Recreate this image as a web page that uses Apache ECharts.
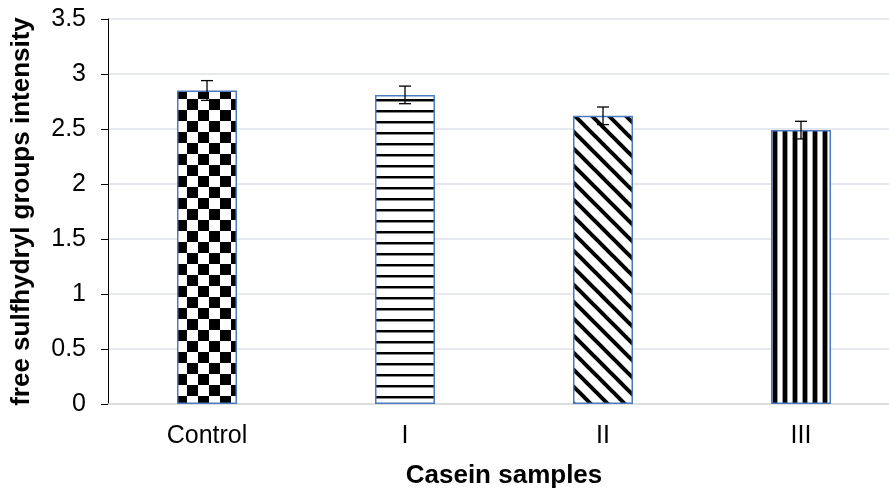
<!DOCTYPE html>
<html lang="en">
<head>
    <meta charset="UTF-8">
    <title>Casein samples</title>
    <script src="https://cdn.jsdelivr.net/npm/echarts@6/dist/echarts.min.js"></script>
    <style>
        html, body {margin: 0; padding: 0; background: #fff;}
        #main {width: 889px; height: 492px;}
    </style>
</head>
<body>
    <div id="main"></div>
    <script>
        var categories = ['Control', 'I', 'II', 'III'];
        var values = [2.85, 2.81, 2.62, 2.49];
        var errors = [0.09, 0.08, 0.08, 0.08];
        var yTicks = [0, 0.5, 1, 1.5, 2, 2.5, 3, 3.5];

        // fill patterns for the bars
        function makePattern(kind) {
            var c = document.createElement('canvas');
            var ctx;
            if (kind == 'checker') {
                c.width = 22; c.height = 22;
                ctx = c.getContext('2d');
                ctx.fillStyle = '#fff'; ctx.fillRect(0, 0, 22, 22);
                ctx.fillStyle = '#000';
                ctx.fillRect(0, 0, 11, 11);
                ctx.fillRect(11, 11, 11, 11);
            } else if (kind == 'horiz') {
                c.width = 10; c.height = 11;
                ctx = c.getContext('2d');
                ctx.fillStyle = '#fff'; ctx.fillRect(0, 0, 10, 11);
                ctx.fillStyle = '#000'; ctx.fillRect(0, 0, 10, 2);
                ctx.fillStyle = '#888'; ctx.fillRect(0, 2, 10, 1);
            } else if (kind == 'diag') {
                c.width = 17; c.height = 17;
                ctx = c.getContext('2d');
                ctx.fillStyle = '#fff'; ctx.fillRect(0, 0, 17, 17);
                ctx.strokeStyle = '#000'; ctx.lineWidth = 4;
                for (var k = -1; k <= 1; k++) {
                    ctx.beginPath();
                    ctx.moveTo(-5, -5 + k * 17);
                    ctx.lineTo(22, 22 + k * 17);
                    ctx.stroke();
                }
            } else {
                c.width = 10; c.height = 10;
                ctx = c.getContext('2d');
                ctx.fillStyle = '#fff'; ctx.fillRect(0, 0, 10, 10);
                ctx.fillStyle = '#000'; ctx.fillRect(3, 0, 4, 10);
                ctx.fillStyle = '#999'; ctx.fillRect(2, 0, 1, 10); ctx.fillRect(7, 0, 1, 10);
            }
            return {image: c, repeat: 'repeat'};
        }
        var patterns = [makePattern('checker'), makePattern('horiz'), makePattern('diag'), makePattern('vert')];

        var barData = [];
        var errData = [];
        for (var i = 0; i < categories.length; i++) {
            barData.push({value: values[i], itemStyle: {color: patterns[i]}});
            errData.push([i, values[i] - errors[i], values[i] + errors[i]]);
        }

        var myChart = echarts.init(document.getElementById('main'));
        var option = {
            animation: false,
            textStyle: {fontFamily: 'Liberation Sans, Arial, sans-serif'},
            grid: {left: 108, top: 19, right: -11, height: 385, outerBoundsMode: 'none'},
            xAxis: {
                type: 'category',
                data: categories,
                name: 'Casein samples',
                nameLocation: 'middle',
                nameGap: 59,
                nameTextStyle: {fontSize: 26, fontWeight: 'bold', color: '#000'},
                axisLine: {lineStyle: {color: '#d9d9d9', width: 1.5}},
                axisTick: {length: 6, lineStyle: {color: '#d9d9d9', width: 1.5}},
                axisLabel: {fontSize: 25, color: '#000', margin: 20}
            },
            yAxis: {
                type: 'value',
                min: yTicks[0],
                max: yTicks[yTicks.length - 1],
                interval: 0.5,
                name: 'free sulfhydryl groups intensity',
                nameLocation: 'middle',
                nameGap: 73,
                nameTextStyle: {fontSize: 26, fontWeight: 'bold', color: '#000'},
                axisLine: {show: true, lineStyle: {color: '#000', width: 1}},
                axisTick: {show: true, length: 7, lineStyle: {color: '#000'}},
                axisLabel: {fontSize: 25, color: '#000', margin: 22},
                splitLine: {lineStyle: {color: '#dde2ea', width: 1.5}}
            },
            series: [{
                name: 'intensity',
                type: 'bar',
                barWidth: 60,
                data: barData,
                itemStyle: {borderColor: '#4a7bc0', borderWidth: 1.5}
            }, {
                name: 'error',
                type: 'custom',
                data: errData,
                z: 10,
                renderItem: function (params, api) {
                    var lo = api.coord([api.value(0), api.value(1)]);
                    var hi = api.coord([api.value(0), api.value(2)]);
                    var w = 6;
                    var st = {stroke: '#000', lineWidth: 1.3};
                    return {
                        type: 'group',
                        children: [
                            {type: 'line', shape: {x1: hi[0], y1: hi[1], x2: lo[0], y2: lo[1]}, style: st},
                            {type: 'line', shape: {x1: hi[0] - w, y1: hi[1], x2: hi[0] + w, y2: hi[1]}, style: st},
                            {type: 'line', shape: {x1: lo[0] - w, y1: lo[1], x2: lo[0] + w, y2: lo[1]}, style: st}
                        ]
                    };
                }
            }]
        };
        myChart.setOption(option);
    </script>
</body>
</html>
